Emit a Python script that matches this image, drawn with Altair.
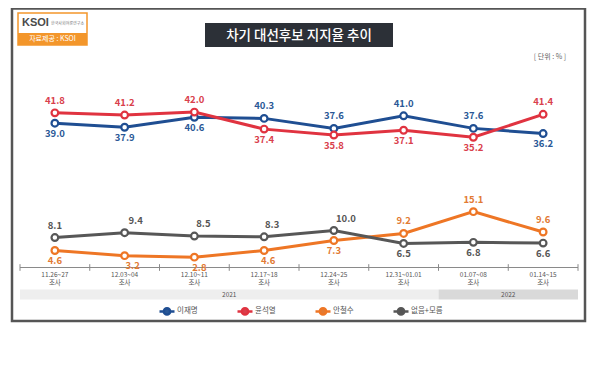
import altair as alt
import pandas as pd

# ---- data ----
categories = ["11.26~27", "12.03~04", "12.10~11", "12.17~18",
              "12.24~25", "12.31~01.01", "01.07~08", "01.14~15"]
series_names = ["이재명", "윤석열", "안철수", "없음+모름"]
lee = [39.0, 37.9, 40.6, 40.3, 37.6, 41.0, 37.6, 36.2]
yoon = [41.8, 41.2, 42.0, 37.4, 35.8, 37.1, 35.2, 41.4]
ahn = [4.6, 3.2, 2.8, 4.6, 7.3, 9.2, 15.1, 9.6]
none_dk = [8.1, 9.4, 8.5, 8.3, 10.0, 6.5, 6.8, 6.6]
years = ["2021", "2022"]
year_first = [0, 6]
year_last = [5, 7]

# label placement (a = above, b = below) and small horizontal nudges (px)
label_side = {
    "이재명": list("bbbaaaab"),
    "윤석열": list("aaabbbba"),
    "안철수": list("bbbbbaaa"),
    "없음+모름": list("aaaaabbb"),
}
label_dx = {
    "이재명": [0, 0, 0, 0, 0, 0, 0, 0],
    "윤석열": [0, 0, 0, 0, 0, 0, 0, 0],
    "안철수": [0, 8, 5, 4, 0, 0, 0, 0],
    "없음+모름": [0, 11, 9, 8, 12, 0, 0, 0],
}
colors = ["#1F4E92", "#E03340", "#EE7625", "#575757"]
label_colors = ["#2A5896", "#D9404C", "#E27A33", "#555555"]
year_colors = ["#EEEEEE", "#D9D9D9"]

values = {"이재명": lee, "윤석열": yoon, "안철수": ahn, "없음+모름": none_dk}
STEP = 69.75
rows = []
for s in series_names:
    for i, c in enumerate(categories):
        rows.append({"idx": i, "cat": c, "series": s, "value": values[s][i],
                     "side": label_side[s][i], "lx": i + label_dx[s][i] / STEP})
df = pd.DataFrame(rows)

n = len(categories)
cat_df = pd.DataFrame({"idx": list(range(n)), "cat": categories, "sub": ["조사"] * n})
tick_df = pd.DataFrame({"t": [i - 0.5 for i in range(n + 1)], "lo": -0.9, "hi": 0.9})
axis_df = pd.DataFrame({"x0": [-0.5], "x1": [n - 0.5], "y": [0.0]})
year_df = pd.DataFrame({"year": years, "x0": [a - 0.5 for a in year_first],
                        "x1": [b + 0.5 for b in year_last],
                        "mid": [(a + b) / 2 for a, b in zip(year_first, year_last)]})

FONT = "Noto Sans CJK KR"
xs = alt.Scale(domain=[-0.5, n - 0.5], range=[12, 570])
ys = alt.Scale(domain=[0, 50], range=[259.5, 74.5])
cscale = alt.Scale(domain=series_names, range=colors)
lscale = alt.Scale(domain=series_names, range=label_colors)


def X(f):
    return alt.X(f, scale=xs, axis=None)


def Y(f):
    return alt.Y(f, scale=ys, axis=None)


one = pd.DataFrame({"a": [0]})


def box(x0, x1, y0, y1, **kw):
    return alt.Chart(one).mark_rect(**kw).encode(
        x=alt.value(x0), x2=alt.value(x1), y=alt.value(y0), y2=alt.value(y1))


def label(txt, x, y, **kw):
    return alt.Chart(one).mark_text(text=txt, **kw).encode(x=alt.value(x), y=alt.value(y))


frame = box(4, 577, 0.5, 313, fill="transparent", stroke="#555555", strokeWidth=2.5)
logo_box = box(10, 79, 5, 37, fill="white", stroke="#F3962B", strokeWidth=1.5)
logo_bottom = box(10, 79, 25, 37, fill="#F3962B")
logo_text = label("KSOI", 14, 15, font="Liberation Sans", fontSize=11, fontWeight="bold",
                  color="#4A4A4A", align="left")
logo_small = label("한국사회여론연구소", 43, 16, font=FONT, fontSize=4, color="#777777", align="left")
logo_src = label("자료제공 : KSOI", 44.5, 31, font=FONT, fontSize=7, color="white")
title_box = box(197, 385, 15, 39, fill="#2C3037")
title_text = label("차기 대선후보 지지율 추이", 291, 27.5, font=FONT, fontSize=13.5,
                   fontWeight=500, color="white")
unit_text = label("[ 단위 : % ]", 542, 49, font=FONT, fontSize=7, color="#666666")

# axis (drawn through the scales)
axis_line = alt.Chart(axis_df).mark_rule(color="#8A8A8A", strokeWidth=1).encode(
    x=X("x0:Q"), x2="x1:Q", y=Y("y:Q"))
ticks = alt.Chart(tick_df).mark_rule(color="#8A8A8A", strokeWidth=1).encode(
    x=X("t:Q"), y=Y("lo:Q"), y2="hi:Q")
cat_text = alt.Chart(cat_df).mark_text(font=FONT, fontSize=6.5, color="#555555").encode(
    x=X("idx:Q"), y=alt.value(266.5), text="cat:N")
sub_text = alt.Chart(cat_df).mark_text(font=FONT, fontSize=6.5, color="#555555").encode(
    x=X("idx:Q"), y=alt.value(274.5), text="sub:N")

year_layers = []
for yname, ycol in zip(years, year_colors):
    year_layers.append(
        alt.Chart(year_df).transform_filter(alt.datum.year == yname).mark_rect(color=ycol).encode(
            x=X("x0:Q"), x2="x1:Q", y=alt.value(281.5), y2=alt.value(291.5)))
year_text = alt.Chart(year_df).mark_text(font=FONT, fontSize=6.5, color="#555555").encode(
    x=X("mid:Q"), y=alt.value(286.5), text="year:N")

sym = "M-1,0L-0.42,0M0.42,0L1,0M-0.42,0A0.42,0.42 0 1,1 0.42,0A0.42,0.42 0 1,1 -0.42,0"

lines = alt.Chart(df).mark_line(strokeWidth=3).encode(
    x=X("idx:Q"), y=Y("value:Q"),
    color=alt.Color("series:N", scale=cscale,
                    legend=alt.Legend(orient="none", legendX=150, legendY=294, direction="horizontal",
                                      title=None, symbolType=sym, symbolSize=225,
                                      symbolStrokeWidth=2.5, symbolFillColor="white",
                                      labelFont=FONT, labelFontSize=7.5, labelColor="#555555",
                                      labelOffset=1, columnPadding=34, padding=0)))

points = alt.Chart(df).mark_point(shape="circle", size=45, filled=False, fill="white",
                                  fillOpacity=1, strokeWidth=2.2, opacity=1).encode(
    x=X("idx:Q"), y=Y("value:Q"),
    stroke=alt.Stroke("series:N", scale=cscale, legend=None))

above = alt.Chart(df).transform_filter(alt.datum.side == "a").mark_text(
    font=FONT, fontSize=9.5, fontWeight="bold", dy=-12).encode(
    x=X("lx:Q"), y=Y("value:Q"),
    text=alt.Text("value:Q", format=".1f"),
    fill=alt.Fill("series:N", scale=lscale, legend=None))
below = alt.Chart(df).transform_filter(alt.datum.side == "b").mark_text(
    font=FONT, fontSize=9.5, fontWeight="bold", dy=10.5).encode(
    x=X("lx:Q"), y=Y("value:Q"),
    text=alt.Text("value:Q", format=".1f"),
    fill=alt.Fill("series:N", scale=lscale, legend=None))

chart = alt.layer(
    frame, logo_box, logo_bottom, logo_text, logo_small, logo_src,
    title_box, title_text, unit_text,
    *year_layers, year_text, axis_line, ticks, cat_text, sub_text,
    lines, points, above, below
).properties(
    width=584, height=357, autosize=alt.AutoSizeParams(type="none"), padding=0,
    background="white"
).configure_view(stroke=None)

chart.save("out.html", embed_options={"renderer": "svg", "actions": False})
